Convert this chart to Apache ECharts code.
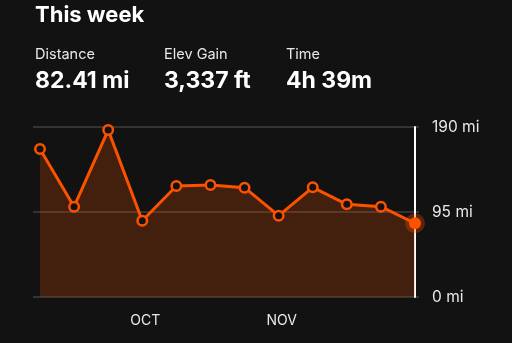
<!DOCTYPE html>
<html>
<head>
<meta charset="utf-8">
<script src="https://cdn.jsdelivr.net/npm/echarts@6/dist/echarts.min.js"></script>
<style>
html,body{margin:0;padding:0;background:#121212;}
#c{width:512px;height:343px;}
</style>
</head>
<body>
<div id="c"></div>
<script>
var weeks = ['W1','W2','W3','W4','W5','W6','W7','W8','W9','W10','W11','W12'];
var distance = [165.4, 100.9, 186.6, 85.3, 124.0, 125.2, 122.2, 90.9, 122.6, 103.6, 100.9, 82.41];
var monthLabels = {3: 'OCT', 7: 'NOV'};
var yTicks = [0, 95, 190];
var stats = [
  {label: 'Distance', value: '82.41 mi'},
  {label: 'Elev Gain', value: '3,337 ft'},
  {label: 'Time', value: '4h 39m'}
];

var FONT = 'Inter, Roboto, sans-serif';
var ORANGE = '#fc5200';
var BG = '#121212';
var statX = [35, 164, 286];

var graphics = [{
  type: 'text', left: 35, top: 4,
  style: {text: 'This week', fill: '#ffffff', font: 'bold 22px ' + FONT}
}];
stats.forEach(function (s, i) {
  graphics.push({type: 'text', left: statX[i], top: 47,
    style: {text: s.label, fill: '#e8e8e8', font: '14.5px ' + FONT}});
  graphics.push({type: 'text', left: statX[i], top: 70,
    style: {text: s.value, fill: '#ffffff', font: 'bold 23px ' + FONT}});
});

var last = distance.length - 1;
var chart = echarts.init(document.getElementById('c'), null, {renderer: 'canvas'});
chart.setOption({
  backgroundColor: BG,
  animation: false,
  graphic: graphics,
  grid: [
    {left: 33, right: 93, top: 127, bottom: 46},
    {left: 40, right: 97, top: 127, bottom: 46}
  ],
  xAxis: [
    {gridIndex: 0, type: 'category', data: weeks, show: false},
    {gridIndex: 1, type: 'category', data: weeks, boundaryGap: false,
      axisLine: {show: false}, axisTick: {show: false},
      axisLabel: {
        interval: 0, margin: 17, color: '#e8e8e8', fontFamily: FONT, fontSize: 14,
        padding: [0, 0, 0, 6],
        formatter: function (v, i) { return monthLabels[i] || ''; }
      }
    }
  ],
  yAxis: [
    {gridIndex: 0, type: 'value', min: 0, max: 190, interval: 95,
      axisLine: {show: false}, axisTick: {show: false}, axisLabel: {show: false},
      splitLine: {show: true, lineStyle: {color: '#3f3f3f', width: 1.5}}},
    {gridIndex: 1, type: 'value', position: 'right', min: 0, max: 190, interval: 95,
      axisLine: {show: true, lineStyle: {color: '#ffffff', width: 2}},
      axisTick: {show: false}, splitLine: {show: false},
      axisLabel: {margin: 17, color: '#e8e8e8', fontFamily: FONT, fontSize: 15.5,
        formatter: function (v) { return v + ' mi'; }}}
  ],
  series: [{
    type: 'line', xAxisIndex: 1, yAxisIndex: 1,
    data: distance.map(function (v, i) {
      if (i === last) {
        return {value: v, symbolSize: 12,
          itemStyle: {color: ORANGE, borderColor: 'rgba(252,82,0,0.3)', borderWidth: 8}};
      }
      return v;
    }),
    symbol: 'circle', symbolSize: 9.5, showAllSymbol: true,
    itemStyle: {color: BG, borderColor: ORANGE, borderWidth: 2.5},
    lineStyle: {color: ORANGE, width: 3},
    areaStyle: {color: 'rgba(252,82,0,0.3)'}
  }]
});
</script>
</body>
</html>
